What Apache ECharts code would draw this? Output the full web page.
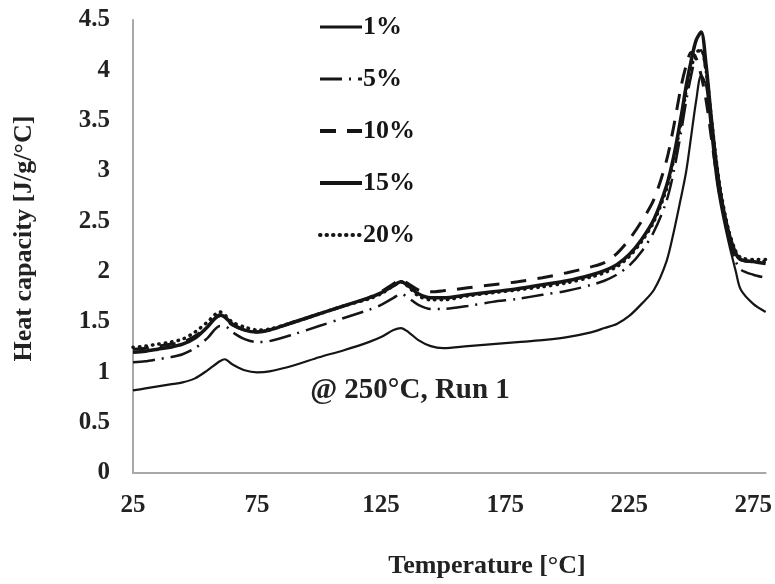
<!DOCTYPE html>
<html>
<head>
<meta charset="utf-8">
<script src="https://cdn.jsdelivr.net/npm/echarts@6/dist/echarts.min.js"></script>
<style>
html, body { margin: 0; padding: 0; background: #fff; }
#chart { width: 775px; height: 584px; }
</style>
</head>
<body>
<div id="chart"></div>
<script>
// temperature points, degC
var temps = [25, 30, 35, 40, 45, 50, 55, 60, 62, 65, 70, 75, 80, 90, 100, 110, 120, 125, 130, 133, 136, 140, 145, 150, 160, 170, 180, 190, 200, 210, 215, 220, 225, 230, 235, 240, 243, 246, 248, 250, 252, 254, 256, 258, 260, 262, 265, 268, 270, 275, 280];

// heat capacity, J/g/degC
var cp1 = [0.82, 0.84, 0.86, 0.88, 0.90, 0.94, 1.02, 1.11, 1.13, 1.08, 1.02, 1.00, 1.01, 1.07, 1.15, 1.22, 1.30, 1.35, 1.42, 1.44, 1.40, 1.32, 1.26, 1.24, 1.26, 1.28, 1.30, 1.32, 1.35, 1.40, 1.44, 1.48, 1.56, 1.68, 1.82, 2.10, 2.40, 2.75, 3.00, 3.35, 3.70, 3.95, 3.85, 3.40, 2.95, 2.65, 2.30, 2.00, 1.82, 1.68, 1.60];
var cp5 = [1.10, 1.11, 1.13, 1.15, 1.18, 1.24, 1.34, 1.46, 1.46, 1.40, 1.33, 1.30, 1.31, 1.38, 1.46, 1.54, 1.62, 1.67, 1.74, 1.78, 1.74, 1.67, 1.63, 1.63, 1.66, 1.70, 1.73, 1.77, 1.81, 1.87, 1.91, 1.97, 2.06, 2.20, 2.40, 2.70, 3.00, 3.40, 3.70, 3.95, 4.15, 4.20, 3.95, 3.50, 3.05, 2.70, 2.35, 2.10, 2.02, 1.97, 1.94];
var cp10 = [1.23, 1.24, 1.26, 1.28, 1.30, 1.36, 1.46, 1.56, 1.54, 1.47, 1.42, 1.40, 1.42, 1.50, 1.58, 1.66, 1.74, 1.80, 1.88, 1.92, 1.88, 1.82, 1.80, 1.81, 1.84, 1.87, 1.90, 1.94, 1.99, 2.05, 2.09, 2.18, 2.32, 2.50, 2.72, 3.10, 3.45, 3.85, 4.05, 4.18, 4.12, 3.95, 3.70, 3.35, 3.00, 2.70, 2.38, 2.18, 2.12, 2.10, 2.10];
var cp15 = [1.20, 1.21, 1.23, 1.25, 1.28, 1.34, 1.45, 1.57, 1.55, 1.48, 1.42, 1.40, 1.42, 1.50, 1.58, 1.66, 1.74, 1.79, 1.86, 1.90, 1.86, 1.78, 1.74, 1.74, 1.77, 1.80, 1.83, 1.87, 1.91, 1.97, 2.01, 2.07, 2.17, 2.32, 2.52, 2.85, 3.15, 3.55, 3.85, 4.10, 4.30, 4.38, 4.05, 3.55, 3.10, 2.75, 2.40, 2.18, 2.12, 2.10, 2.08];
var cp20 = [1.25, 1.26, 1.28, 1.30, 1.33, 1.40, 1.50, 1.60, 1.57, 1.50, 1.45, 1.42, 1.43, 1.50, 1.58, 1.66, 1.73, 1.78, 1.86, 1.90, 1.85, 1.76, 1.72, 1.72, 1.76, 1.79, 1.82, 1.85, 1.89, 1.95, 1.99, 2.05, 2.15, 2.30, 2.50, 2.82, 3.12, 3.50, 3.80, 4.02, 4.18, 4.20, 4.00, 3.55, 3.12, 2.78, 2.42, 2.20, 2.14, 2.12, 2.12];

var serif = '"Liberation Serif", "Times New Roman", serif';
var ink = '#151515';

function pairs(vals) {
    return temps.map(function (t, i) { return [t, vals[i]]; });
}

function mkSeries(name, vals, width, type, cap) {
    return {
        name: name, type: 'line', symbol: 'none', smooth: 0.3,
        lineStyle: { color: ink, width: width, type: type, cap: cap || 'butt' },
        itemStyle: { color: ink },
        data: pairs(vals)
    };
}

var chart = echarts.init(document.getElementById('chart'));
chart.setOption({
    animation: false,
    backgroundColor: '#fff',
    grid: { left: 133, right: 9, top: 20, bottom: 111, containLabel: false },
    legend: {
        orient: 'vertical',
        left: 313,
        top: 9,
        itemWidth: 42,
        itemHeight: 14,
        itemGap: 26,
        itemStyle: { opacity: 0 },
        textStyle: { fontFamily: serif, fontWeight: 'bold', fontSize: 26, color: ink, padding: [0, 0, 0, -4] },
        // legend swatches are drawn a little heavier than the plot lines
        data: [
            { name: '1%', lineStyle: { width: 3 } },
            { name: '5%', lineStyle: { width: 3 } },
            { name: '10%', lineStyle: { width: 4 } },
            { name: '15%', lineStyle: { width: 4 } },
            { name: '20%', lineStyle: { width: 4 } }
        ]
    },
    xAxis: {
        type: 'value',
        min: 25,
        max: 280,
        interval: 50,
        splitLine: { show: false },
        axisTick: { show: false },
        axisLine: { show: true, lineStyle: { color: '#a8a8a8', width: 2 } },
        axisLabel: {
            showMaxLabel: false,
            margin: 20,
            fontFamily: serif, fontWeight: 'bold', fontSize: 25, color: '#222'
        }
    },
    yAxis: {
        type: 'value',
        min: 0,
        max: 4.5,
        interval: 0.5,
        name: 'Heat capacity [J/g/°C]',
        nameLocation: 'middle',
        nameGap: 96,
        nameTextStyle: { fontFamily: serif, fontWeight: 'bold', fontSize: 26, color: '#222', padding: [0, 0, 0, 16] },
        splitLine: { show: false },
        axisTick: { show: false },
        axisLine: { show: true, lineStyle: { color: '#a8a8a8', width: 2 } },
        axisLabel: { margin: 23, fontFamily: serif, fontWeight: 'bold', fontSize: 25, color: '#222' }
    },
    graphic: [
        {
            type: 'text', x: 410, y: 391,
            style: { text: '@ 250°C, Run 1', font: 'bold 29px ' + serif, fill: '#222', align: 'center', verticalAlign: 'middle' }
        },
        {
            type: 'text', x: 487, y: 566,
            style: { text: 'Temperature [°C]', font: 'bold 26px ' + serif, fill: '#222', align: 'center', verticalAlign: 'middle' }
        }
    ],
    series: [
        mkSeries('1%', cp1, 2.2, 'solid'),
        mkSeries('5%', cp5, 2.5, [22, 7, 2, 7]),
        mkSeries('10%', cp10, 3, [16, 11]),
        mkSeries('15%', cp15, 3.5, 'solid'),
        mkSeries('20%', cp20, 3.5, [0.5, 6], 'round')
    ]
});
</script>
</body>
</html>
